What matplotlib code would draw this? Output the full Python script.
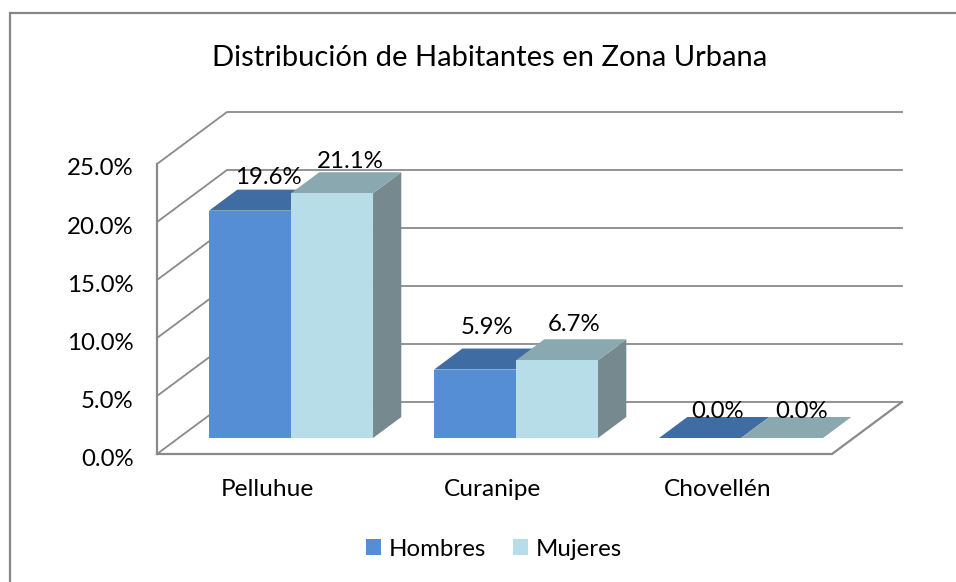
import matplotlib
matplotlib.use("Agg")
import matplotlib.pyplot as plt
from matplotlib.lines import Line2D
from matplotlib.patches import Polygon, Patch
from matplotlib.transforms import ScaledTranslation

plt.rcParams['font.family'] = ['Lato', 'DejaVu Sans']

# ---- data
categories = ["Pelluhue", "Curanipe", "Chovellén"]
hombres = [19.6, 5.9, 0.0]
mujeres = [21.1, 6.7, 0.0]
yticks = [0, 5, 10, 15, 20, 25]
title = "Distribución de Habitantes en Zona Urbana"

W, H = 956, 582
GRID = "#8a8a8a"
fig = plt.figure(figsize=(W / 100, H / 100), dpi=100, facecolor="white")

# axes: data x in category units, data y in percent
x0, x1, y0, y1 = 157, 901, 454, 112
ax = fig.add_axes([x0 / W, 1 - y0 / H, (x1 - x0) / W, (y0 - y1) / H])
PX_X = 225.0   # px per category
PX_Y = 11.6    # px per percent
DX = 70 / PX_X  # wall depth in data units
DY = 52 / PX_Y
ax.set_xlim(0, (x1 - x0) / PX_X)
ax.set_ylim(0, (y0 - y1) / PX_Y)
for s in ax.spines.values():
    s.set_visible(False)
ax.patch.set_alpha(0)


def proj(x, y, d):
    return (x + d * DX, y + d * DY)


n = len(categories)
# walls and floor
for t in yticks:
    a, b = proj(0, t, 0), proj(0, t, 1)
    c = proj(n, t, 1)
    ax.plot([a[0], b[0], c[0]], [a[1], b[1], c[1]], color=GRID, lw=1.3, zorder=1,
            clip_on=False, solid_joinstyle="miter")
a, b, c = proj(n, 0, 0), proj(n, 0, 1), proj(0, 0, 0)
ax.plot([c[0], a[0], b[0]], [c[1], a[1], b[1]], color=GRID, lw=1.6, zorder=1.5, clip_on=False,
        solid_joinstyle="miter")
ax.plot([0, 0], [0, yticks[-1]], color=GRID, lw=1.6, zorder=1.5, clip_on=False)

# bars
BAR_W = 82 / PX_X
D0, D1 = 16 / 52, 37 / 52
styles = [
    ("Hombres", hombres, -1, "#558ed5", "#3f6ca3", "#3f6a9e"),
    ("Mujeres", mujeres, 0, "#b7dee8", "#8aa8af", "#75898e"),
]
label_off = {
    "Hombres": [(18, 33), (12, 42), (18, 27)],
    "Mujeres": [(18, 32), (17, 36), (20, 27)],
}
for name, vals, k, front, top, side in styles:
    for i, v in enumerate(vals):
        xl = i + 0.5 + k * BAR_W
        xr = xl + BAR_W
        z = 3 + 0.1 * (k + 1)
        ax.add_patch(Polygon([proj(xr, 0, D0), proj(xr, 0, D1), proj(xr, v, D1), proj(xr, v, D0)],
                             fc=side, ec="none", zorder=z))
        ax.add_patch(Polygon([proj(xl, v, D0), proj(xr, v, D0), proj(xr, v, D1), proj(xl, v, D1)],
                             fc=top, ec="none", zorder=z))
        ax.add_patch(Polygon([proj(xl, 0, D0), proj(xr, 0, D0), proj(xr, v, D0), proj(xl, v, D0)],
                             fc=front, ec="none", zorder=z))
        dx, dy = label_off[name][i]
        ax.annotate(f"{v:.1f}%", xy=proj((xl + xr) / 2, v, D0), xytext=(dx * 0.72, dy * 0.72),
                    textcoords="offset points", ha="center", va="center",
                    fontsize=17.3, color="black", zorder=5)

# axis labels
ax.set_yticks(yticks)
ax.set_yticklabels([f"{t:.1f}%" for t in yticks], fontsize=17.3, color="black")
ax.set_xticks([i + 0.5 for i in range(n)])
ax.set_xticklabels(categories, fontsize=17.6, color="black")
ax.tick_params(axis="both", length=0)
ax.tick_params(axis="y", pad=17)
ax.tick_params(axis="x", pad=18)
shift_y = ScaledTranslation(0, -3 / 100, fig.dpi_scale_trans)
shift_x = ScaledTranslation(-2 / 100, 0, fig.dpi_scale_trans)
for lab in ax.get_yticklabels():
    lab.set_transform(lab.get_transform() + shift_y)
for lab in ax.get_xticklabels():
    lab.set_transform(lab.get_transform() + shift_x)

fig.text(490 / W, 1 - 58 / H, title, ha="center", va="center", fontsize=21, color="black")

# chart frame (only left and top visible)
fig.add_artist(Line2D([10 / W, 10 / W, 1], [0, 1 - 13 / H, 1 - 13 / H], color="#868686", lw=1.6,
                      solid_joinstyle="miter"))

handles = [Patch(fc=s[3], ec="none", label=s[0]) for s in styles]
fig.legend(handles=handles, loc="center", bbox_to_anchor=(494 / W, 1 - 549 / H), ncol=2,
           frameon=False, fontsize=17.3, handlelength=0.62, handleheight=0.62,
           handletextpad=0.3, columnspacing=1.15, labelcolor="black")

fig.savefig("out.png", dpi=100, facecolor="white")
